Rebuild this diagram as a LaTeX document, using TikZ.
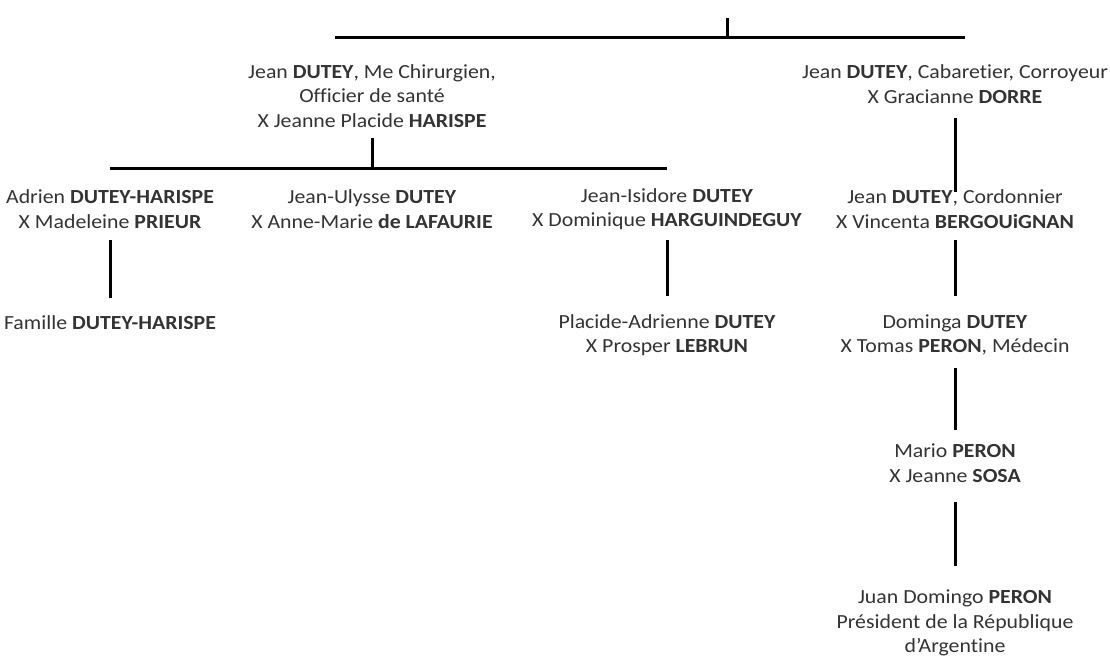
\documentclass[tikz,border=0pt]{standalone}
\usepackage{fontspec}
\setmainfont[FakeStretch=1.09,Ligatures=NoCommon]{Carlito}
\begin{document}
\begin{tikzpicture}[x=1pt,y=-1pt,
  person/.style={align=center,inner sep=0pt,font=\fontsize{20}{24.5}\selectfont,text=black!80},
  link/.style={line width=3pt,black}]
\useasboundingbox (0,0) rectangle (1110,659);
% nodes
\node[person] (p1) at (372,96) {Jean \textbf{DUTEY}, Me Chirurgien,\\Officier de santé\\X Jeanne Placide \textbf{HARISPE}};
\node[person] (p2) at (955,84) {Jean \textbf{DUTEY}, Cabaretier, Corroyeur\\X Gracianne \textbf{DORRE}};
\node[person] (c1) at (110,209) {Adrien \textbf{DUTEY-HARISPE}\\X Madeleine \textbf{PRIEUR}};
\node[person] (c2) at (372,209) {Jean-Ulysse \textbf{DUTEY}\\X Anne-Marie \textbf{de LAFAURIE}};
\node[person] (c3) at (667,209) {Jean-Isidore \textbf{DUTEY}\\X Dominique \textbf{HARGUINDEGUY}};
\node[person] (c4) at (955,209) {Jean \textbf{DUTEY}, Cordonnier\\X Vincenta \textbf{BERGOUiGNAN}};
\node[person] (g1) at (110,323) {Famille \textbf{DUTEY-HARISPE}};
\node[person] (g3) at (667,335) {Placide-Adrienne \textbf{DUTEY}\\X Prosper \textbf{LEBRUN}};
\node[person] (g4) at (955,335) {Dominga \textbf{DUTEY}\\X Tomas \textbf{PERON}, Médecin};
\node[person] (m4) at (955,463) {Mario \textbf{PERON}\\X Jeanne \textbf{SOSA}};
\node[person] (j4) at (955,623) {Juan Domingo \textbf{PERON}\\Président de la République\\d’Argentine};
% coordinates
\coordinate (t0) at (727,18);
\coordinate (t1) at (727,37);
\coordinate (tl) at (335,37);
\coordinate (tr) at (965,37);
\coordinate (a0) at (372,138);
\coordinate (a1) at (372,168);
\coordinate (al) at (110,168);
\coordinate (ar) at (667,168);
\coordinate (b0) at (955,118);
\coordinate (b1) at (955,192);
\coordinate (d0) at (110,240);
\coordinate (d1) at (110,298);
\coordinate (e0) at (667,240);
\coordinate (e1) at (667,296);
\coordinate (f0) at (955,240);
\coordinate (f1) at (955,296);
\coordinate (h0) at (955,368);
\coordinate (h1) at (955,430);
\coordinate (k0) at (955,502);
\coordinate (k1) at (955,566);
% links
\draw[link] (tl) -- (tr);
\draw[link] (t0) -- (t1);
\draw[link] (al) -- (ar);
\draw[link] (a0) -- (a1);
\draw[link] (b0) -- (b1);
\draw[link] (d0) -- (d1);
\draw[link] (e0) -- (e1);
\draw[link] (f0) -- (f1);
\draw[link] (h0) -- (h1);
\draw[link] (k0) -- (k1);
\end{tikzpicture}
\end{document}
